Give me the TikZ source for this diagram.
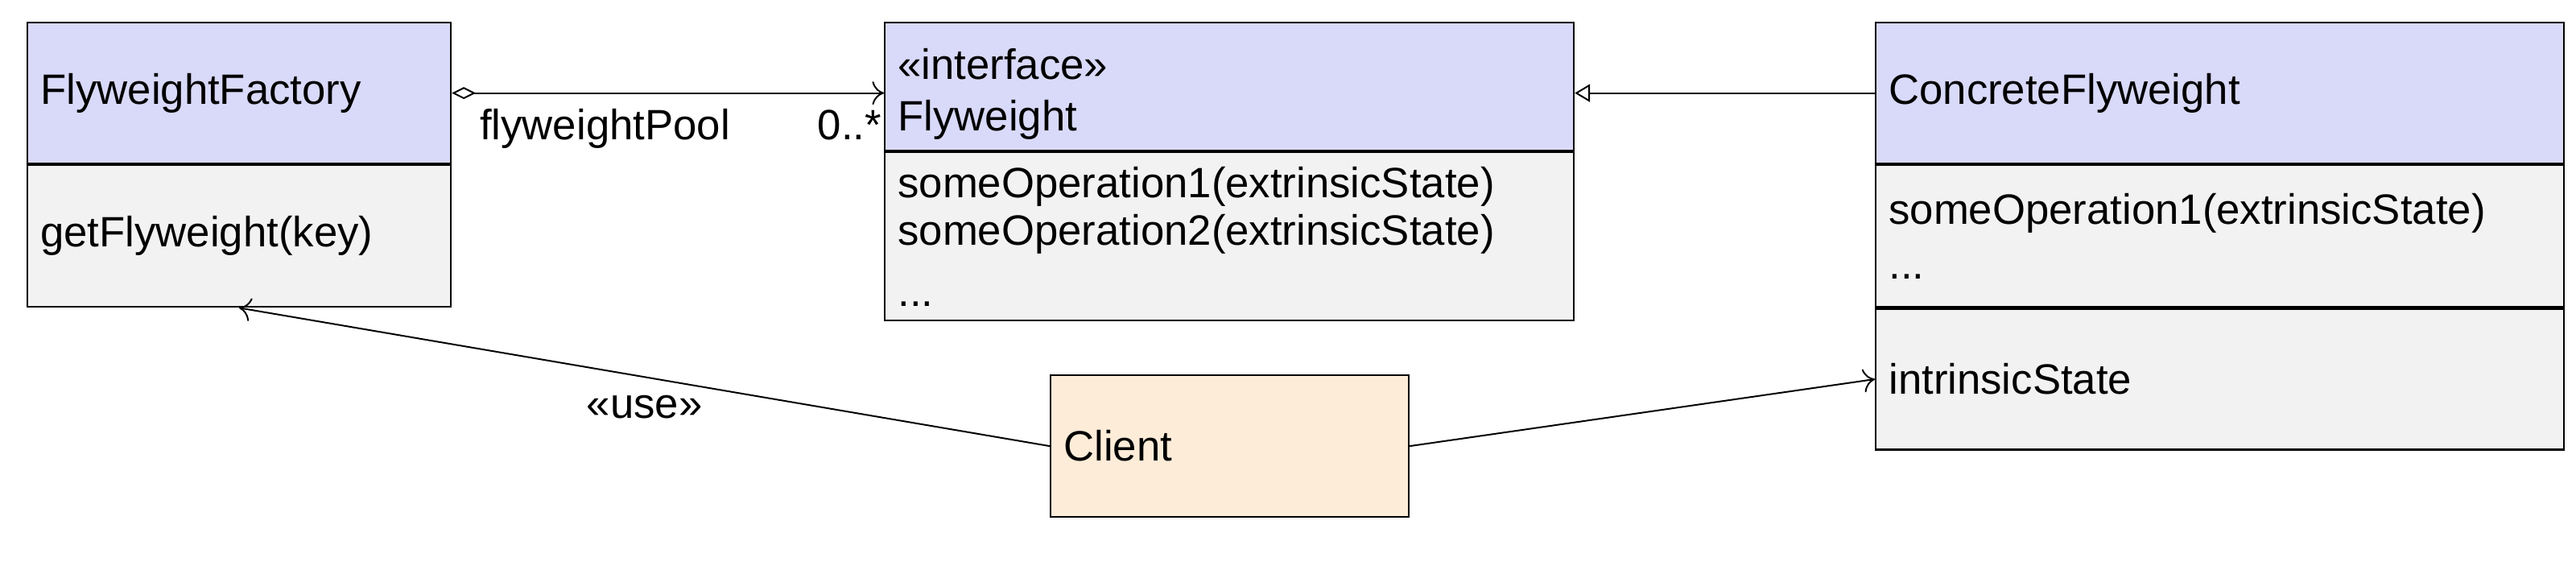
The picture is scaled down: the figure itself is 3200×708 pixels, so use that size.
\documentclass[tikz,border=0pt]{standalone}
\usepackage{fontspec}
\setmainfont{Liberation Sans}
\usetikzlibrary{arrows.meta}
\definecolor{hdbg}{HTML}{D9D9F9}
\definecolor{bdbg}{HTML}{F2F2F2}
\definecolor{clbg}{HTML}{FCECD8}
\tikzset{umlp/.style={
  x=0.08mm,
  y=-0.08mm
}}
\tikzset{cmp/.style={
  draw,
  line width=0.5pt,
  anchor=north west,
  inner xsep=1.3mm,
  inner ysep=0pt,
  align=left,
  font=\fontsize{12}{14.4}\selectfont,
}}
\tikzset{hdn/.style={cmp,fill=hdbg}}
\tikzset{bdn/.style={cmp,fill=bdbg}}
\tikzset{cln/.style={cmp,fill=clbg}}
\tikzset{lbl/.style={
  inner sep=0pt,
  font=\fontsize{12}{14.4}\selectfont
}}
\tikzset{agg/.style={
  line width=0.45pt,
  arrows={Diamond[open,length=6.8pt,width=3.4pt]-Computer Modern Rightarrow[length=3.3pt,width=6.6pt]}
}}
\tikzset{gen/.style={
  line width=0.45pt,
  arrows={-Triangle[open,length=4.3pt,width=5pt]}
}}
\tikzset{dep/.style={
  line width=0.45pt,
  arrows={-Computer Modern Rightarrow[length=3.3pt,width=6.6pt]}
}}

\begin{document}
\begin{tikzpicture}[umlp]

    \useasboundingbox (0,0) rectangle (3200,708);

    %% Classes

    % Factory
    \node[hdn,text width=39.48mm,minimum height=14mm] (facH) at (33,27)
      {FlyweightFactory};
    \node[bdn,text width=39.48mm,minimum height=14.08mm] (facB) at (facH.south west)
      {getFlyweight(key)};

    % Interface
    \node[hdn,text width=65.88mm,minimum height=12.72mm] (flyH) at (1098,27)
      {\rule{0pt}{12.9pt}«interface»\\Flyweight};
    \node[bdn,text width=65.88mm,minimum height=16.72mm] (flyB) at (flyH.south west)
      {someOperation1(extrinsicState)\\[-1pt]someOperation2(extrinsicState)\\[2.9pt]...};

    % Concrete class
    \node[hdn,text width=65.8mm,minimum height=14mm] (cfH) at (2329,27)
      {ConcreteFlyweight};
    \node[bdn,text width=65.8mm,minimum height=14.08mm] (cfB) at (cfH.south west)
      {someOperation1(extrinsicState)\\[0.9pt]...};
    \node[bdn,text width=65.8mm,minimum height=14mm] (cfA) at (cfB.south west)
      {intrinsicState};

    % Client
    \node[cln,text width=33mm,minimum height=14.08mm] (cli) at (1304,465)
      {Client};

    %% Relations

    \draw[agg] (facH.east) -- (flyH.west |- facH.east)
      node[lbl,pos=0,anchor=base west,xshift=2.72mm,yshift=-4.64mm] {flyweightPool}
      node[lbl,pos=1,anchor=base east,xshift=-0.16mm,yshift=-4.64mm] {0..*};
    \draw[gen] (cfH.west) -- (flyH.east |- cfH.west);
    \draw[dep] (cli.west) -- (facB.south)
      node[lbl,midway,yshift=-2.96mm] {«use»};
    \draw[dep] (cli.east) -- (cfA.west);

\end{tikzpicture}
\end{document}
